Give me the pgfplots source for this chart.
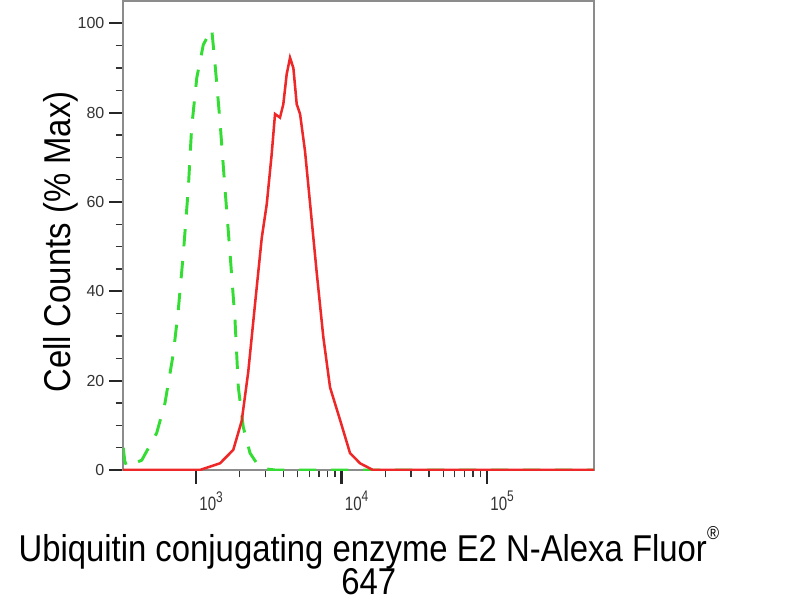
\documentclass[border=0pt]{standalone}
\usepackage{fontspec}
\setmainfont{Liberation Sans}
\newfontfamily\narrowfont[FakeStretch=0.88]{Liberation Sans}
\newfontfamily\ticknarrow[FakeStretch=0.78]{Liberation Sans}
\usepackage{pgfplots}
\pgfplotsset{compat=1.18}
\definecolor{fgreen}{HTML}{33DD33}
\definecolor{fred}{HTML}{EE2828}
\newcommand{\tenpow}[1]{\mbox{\ticknarrow\fontsize{14.5}{14.5}\selectfont 10\raisebox{0.85ex}{\fontsize{11.5}{11.5}\selectfont #1}}}
\begin{document}
\begin{tikzpicture}
\useasboundingbox (-92.25pt,-97.5pt) rectangle (507.75pt,352.5pt);
\begin{axis}[
  scale only axis,
  width=353.25pt, height=351.75pt,
  xmode=log,
  xmin=315, xmax=543000,
  ymin=0, ymax=105,
  /pgf/number format/assume math mode=true,
  axis line style={draw=black!45, line width=1.1pt},
  tick align=outside,
  xtick pos=left, ytick pos=left,
  major tick length=10.5pt,
  minor tick length=5.5pt,
  every major tick/.style={line width=1.6pt, draw=black!85},
  every minor tick/.style={line width=1pt, draw=black!80},
  ytick={0,20,40,60,80,100},
  minor ytick={5,10,15,25,30,35,45,50,55,65,70,75,85,90,95},
  yticklabel style={font=\fontsize{12}{12}\selectfont, text=black!80},
  xtick={1000,10000,100000},
  xticklabels={\tenpow{3},\tenpow{4},\tenpow{5}},
  xticklabel style={text=black!80, anchor=north west, xshift=-1pt, yshift=-2pt},
  xlabel={Ubiquitin conjugating enzyme E2 N-Alexa Fluor\raisebox{1.1ex}{\fontsize{14}{14}\selectfont ®}\\[-3pt]647},
  xlabel style={font=\narrowfont\fontsize{28}{28}\selectfont, align=center, inner sep=0pt, at={(axis description cs:0.522,0)}, anchor=north, yshift=-42pt},
  ylabel={Cell Counts (\% Max)},
  ylabel style={font=\narrowfont\fontsize{28}{28}\selectfont, inner sep=0pt, at={(axis description cs:-0.131,0.486)}, anchor=center},
  clip=true,
]
\addplot[fgreen, line width=2.2pt, dash pattern=on 13pt off 11pt] coordinates {
(316,5) (324,2) (335,0.7) (352,1.1) (424,2.2) (537,8.3) (612,15) (698,26)
(755,35.7) (818,48.4) (885,63) (933,76.6) (1012,87.8) (1122,95.2) (1200,97)
(1282,98.7) (1352,90.8) (1462,78) (1581,63) (1714,48.4) (1854,33.5)
(1954,18.5) (2113,9.6) (2350,3.8) (2754,0.4) (3500,0) (20000,0) (543000,0)
};
\addplot[fred, line width=1.9pt] coordinates {
(316,0) (1064,0) (1462,1.5) (1803,4.5) (2061,11) (2286,22) (2541,37)
(2831,52) (3062,59.5) (3311,70.7) (3491,79.7) (3776,78.9) (3981,81.9)
(4198,88.6) (4426,92.3) (4667,90) (4920,81.9) (5188,79.7) (5610,71.4)
(6081,59.6) (6761,44) (7499,29.7) (8337,18.5) (9772,11.2) (11429,3.8)
(13397,1.5) (16444,0) (543000,0)
};
\end{axis}
\end{tikzpicture}
\end{document}
